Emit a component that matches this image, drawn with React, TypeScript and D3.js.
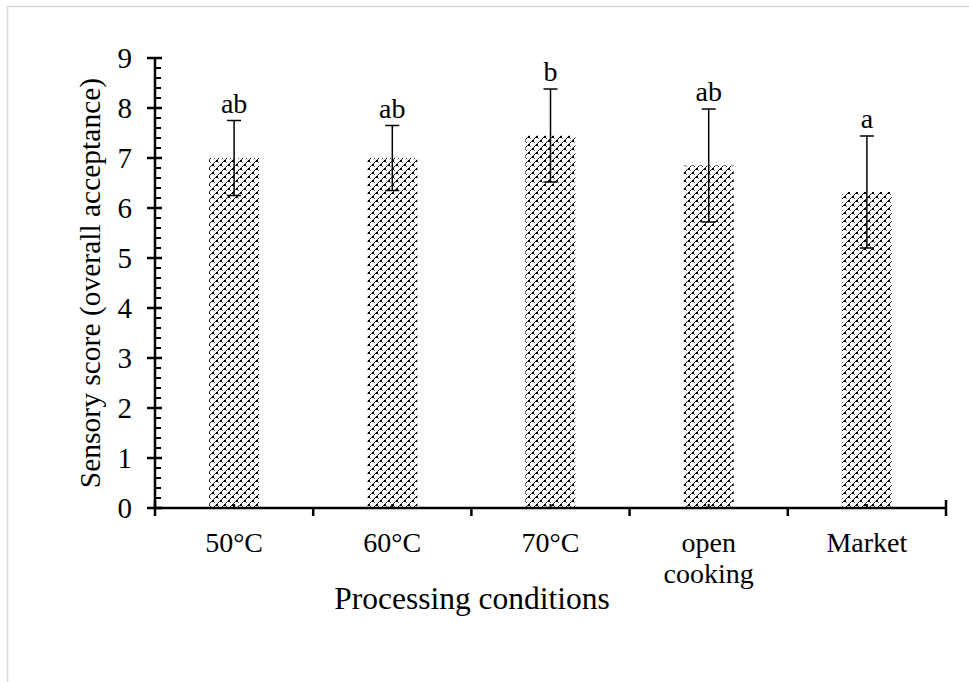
import React from "react";
import * as d3 from "d3";

const categories = ["50°C", "60°C", "70°C", "open\ncooking", "Market"];
const means = [7.0, 7.0, 7.45, 6.85, 6.32];
const errors = [0.75, 0.65, 0.93, 1.13, 1.12];
const letters = ["ab", "ab", "b", "ab", "a"];
const yTicks = [0, 1, 2, 3, 4, 5, 6, 7, 8, 9];

const W = 969, H = 682;
const left = 155, right = 946, top = 58, bottom = 508;

export default function App() {
  const x = d3.scaleBand<string>().domain(categories).range([left, right]).paddingInner(0).paddingOuter(0);
  const y = d3.scaleLinear().domain([0, 9]).range([bottom, top]);
  const bw = x.bandwidth();
  const barW = bw * 0.316;
  const minor = d3.range(0, 9.001, 0.2).filter((v) => Math.abs(v - Math.round(v)) > 0.01);
  const font = "'Liberation Serif', 'Times New Roman', serif";
  return (
    <svg width={W} height={H} style={{ position: "absolute", left: 0, top: 0, background: "#fff" }} fontFamily={font}>
      <defs>
        <pattern id="pat" width="8" height="8" patternUnits="userSpaceOnUse">
          <rect width="8" height="8" fill="#fff" />
          <rect x="0" y="0" width="2" height="2" fill="#000" />
          <rect x="4" y="4" width="2" height="2" fill="#000" />
          <rect x="2" y="2" width="1" height="1" fill="#666" />
          <rect x="6" y="6" width="1" height="1" fill="#666" />
          <rect x="6" y="2" width="1" height="1" fill="#000" />
          <rect x="2" y="6" width="1" height="1" fill="#000" />
          <rect x="7" y="1" width="1" height="1" fill="#333" />
          <rect x="3" y="5" width="1" height="1" fill="#333" />
          <rect x="1" y="7" width="1" height="1" fill="#333" />
          <rect x="5" y="3" width="1" height="1" fill="#333" />
        </pattern>
      </defs>
      <rect x={7.5} y={6.5} width={980} height={700} fill="none" stroke="#d9d9d9" strokeWidth={1.5} />
      {categories.map((c, i) => {
        const cx = (x(c) as number) + bw / 2;
        return (
          <g key={c}>
            <rect x={cx - barW / 2} y={y(means[i])} width={barW} height={bottom - y(means[i])} fill="url(#pat)" />
          </g>
        );
      })}
      {categories.map((c, i) => {
        const cx = (x(c) as number) + bw / 2;
        const hi = y(means[i] + errors[i]);
        const lo = y(means[i] - errors[i]);
        return (
          <g key={"e" + c} stroke="#000" strokeWidth={1.5}>
            <line x1={cx} x2={cx} y1={hi} y2={lo} />
            <line x1={cx - 7} x2={cx + 7} y1={hi} y2={hi} />
            <line x1={cx - 7} x2={cx + 7} y1={lo} y2={lo} />
            <line x1={cx} x2={cx} y1={bottom} y2={bottom - 4} strokeWidth={2} />
            <text x={cx} y={hi - 8} textAnchor="middle" fontSize={28} stroke="none" fill="#000">{letters[i]}</text>
          </g>
        );
      })}
      {/* Y axis */}
      <line x1={left} x2={left} y1={top - 1} y2={bottom} stroke="#000" strokeWidth={2.5} />
      {yTicks.map((t) => (
        <g key={"y" + t}>
          <line x1={left - 8} x2={left + 7} y1={y(t)} y2={y(t)} stroke="#000" strokeWidth={2.5} />
          <text x={left - 23} y={y(t)} dy="0.35em" textAnchor="end" fontSize={29} fill="#000">{t}</text>
        </g>
      ))}
      {minor.map((t) => (
        <line key={"m" + t} x1={left} x2={left + 6} y1={y(t)} y2={y(t)} stroke="#000" strokeWidth={2} />
      ))}
      {/* X axis */}
      <line x1={left} x2={right} y1={bottom} y2={bottom} stroke="#000" strokeWidth={2.5} />
      {categories.map((c, i) => (
        <line key={"xt" + i} x1={x(c) as number} x2={x(c) as number} y1={i === 0 ? bottom - 7 : bottom} y2={bottom + 8} stroke="#000" strokeWidth={2.5} />
      ))}
      <line x1={right} x2={right} y1={bottom - 8} y2={bottom + 8} stroke="#000" strokeWidth={2.5} />
      {categories.map((c) => {
        const cx = (x(c) as number) + bw / 2;
        const lines = c.split("\n");
        return (
          <text key={"xl" + c} x={cx} y={552} textAnchor="middle" fontSize={28} fill="#000">
            {lines.map((l, j) => (
              <tspan key={j} x={cx} dy={j === 0 ? 0 : 31}>{l}</tspan>
            ))}
          </text>
        );
      })}
      <text x={472} y={609} textAnchor="middle" fontSize={31.5} fill="#000">Processing conditions</text>
      <text transform={`translate(100,283) rotate(-90)`} textAnchor="middle" fontSize={29.5} fill="#000">Sensory score (overall acceptance)</text>
    </svg>
  );
}
